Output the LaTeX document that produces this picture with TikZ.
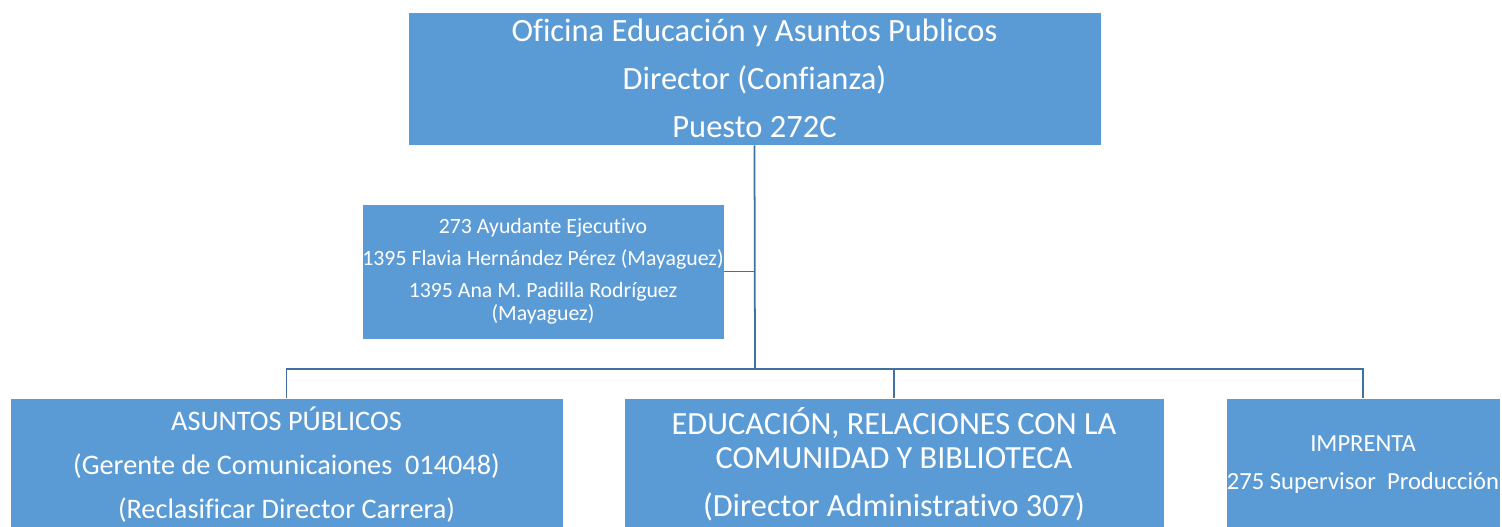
\documentclass[tikz,border=0pt]{standalone}
\usepackage{fontspec}
\setmainfont{Carlito}[Ligatures=NoCommon]
\definecolor{cajaazul}{RGB}{91,155,213}
\definecolor{lineaazul}{RGB}{65,113,156}
\tikzset{
	caja/.style={draw=white, line width=0.4pt, fill=cajaazul, text=white, align=center, inner sep=0pt},
	enlace/.style={draw=lineaazul, line width=1pt}
}
\begin{document}
\begin{tikzpicture}[x=0.02cm, y=-0.02cm]
	\useasboundingbox (0,0) rectangle (1502,527);
	% Oficina y ayudantes
	\node[caja, minimum width=13.86cm, minimum height=2.66cm, font=\fontsize{18.5}{27.3}\selectfont] (ofi) at (754.5,78.5)
		{Oficina Educación y Asuntos Publicos\\Director (Confianza)\\Puesto 272C};
	\node[caja, minimum width=7.24cm, minimum height=2.7cm, font=\fontsize{12.4}{13}\selectfont] (ayu) at (543,271.5)
		{273 Ayudante Ejecutivo\\[5.2pt]1395 Flavia Hernández Pérez (Mayaguez)\\[5.2pt]1395 Ana M. Padilla Rodríguez\\(Mayaguez)};
	% Divisiones
	\node[caja, minimum width=11.06cm, minimum height=2.66cm, font=\fontsize{16.1}{25}\selectfont] (pub) at (286.5,464.5)
		{ASUNTOS PÚBLICOS\\(Gerente de Comunicaiones~ 014048)\\(Reclasificar Director Carrera)};
	\node[caja, minimum width=10.8cm, minimum height=2.66cm, font=\fontsize{18.4}{19.3}\selectfont] (edu) at (894,464.5)
		{EDUCACIÓN, RELACIONES CON LA\\COMUNIDAD Y BIBLIOTECA\\[8pt](Director Administrativo 307)};
	\node[caja, minimum width=5.48cm, minimum height=2.66cm, font=\fontsize{14}{21.6}\selectfont] (imp) at (1363,464.5)
		{IMPRENTA\\275 Supervisor~ Producción};
	% Conectores
	\coordinate (nudo) at (755,369);
	\coordinate (toma) at (ofi.south |- ayu.east);
	\draw[enlace] (ofi.south) -- (nudo);
	\draw[enlace] (toma) -- (ayu.east);
	\draw[enlace] (nudo) -| (pub.north);
	\draw[enlace] (nudo) -| (edu.north);
	\draw[enlace] (nudo) -| (imp.north);
\end{tikzpicture}
\end{document}
